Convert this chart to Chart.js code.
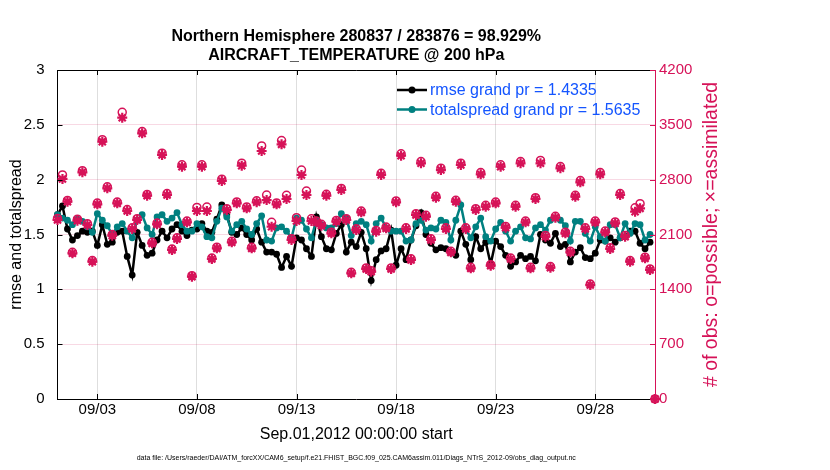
<!DOCTYPE html>
<html>
<head>
<meta charset="utf-8">
<script src="https://cdn.jsdelivr.net/npm/chart.js@4.4.1/dist/chart.umd.min.js"></script>
<style>
  html, body { margin: 0; padding: 0; background: #fff; }
  #wrap { width: 830px; height: 470px; }
</style>
</head>
<body>
<div id="wrap"><canvas id="chart" width="830" height="470"></canvas></div>
<script>
// bins are 6-hourly, day 0 = Sep.01,2012 00:00
const binDays = 0.25;
const xTickDays = [2, 7, 12, 17, 22, 27];
const xTickLabels = ['09/03', '09/08', '09/13', '09/18', '09/23', '09/28'];
const leftTicks = [0, 0.5, 1, 1.5, 2, 2.5, 3];
const rightTicks = [0, 700, 1400, 2100, 2800, 3500, 4200];

const rmse = [
  1.68, 1.76, 1.55, 1.45, 1.49, 1.53, 1.52, 1.53, 1.40, 1.59, 1.41, 1.43, 1.52, 1.53, 1.30, 1.13,
  1.52, 1.40, 1.31, 1.33, 1.45, 1.53, 1.47, 1.55, 1.59, 1.53, 1.49, 1.54, 1.55, 1.60, 1.53, 1.52,
  1.64, 1.77, 1.68, 1.52, 1.50, 1.56, 1.50, 1.45, 1.55, 1.43, 1.34, 1.34, 1.32, 1.20, 1.30, 1.21,
  1.47, 1.45, 1.37, 1.30, 1.66, 1.48, 1.37, 1.36, 1.51, 1.59, 1.34, 1.43, 1.39, 1.52, 1.37, 1.08,
  1.27, 1.35, 1.37, 1.54, 1.22, 1.37, 1.27, 1.45, 1.58, 1.70, 1.50, 1.42, 1.36, 1.38, 1.37, 1.34,
  1.31, 1.53, 1.41, 1.27, 1.48, 1.37, 1.43, 1.23, 1.44, 1.39, 1.31, 1.21, 1.25, 1.31, 1.28, 1.30,
  1.26, 1.50, 1.45, 1.42, 1.51, 1.39, 1.41, 1.25, 1.34, 1.38, 1.29, 1.28, 1.33, 1.45, 1.44, 1.47,
  1.43, 1.47, 1.48, 1.53, 1.53, 1.42, 1.37, 1.43
];
const totalspread = [
  1.68, 1.65, 1.63, 1.59, 1.64, 1.62, 1.57, 1.52, 1.69, 1.63, 1.58, 1.50, 1.57, 1.60, 1.53, 1.47,
  1.63, 1.68, 1.56, 1.50, 1.66, 1.68, 1.62, 1.65, 1.70, 1.59, 1.53, 1.53, 1.60, 1.57, 1.48, 1.47,
  1.62, 1.74, 1.66, 1.53, 1.59, 1.62, 1.55, 1.50, 1.60, 1.67, 1.45, 1.44, 1.56, 1.57, 1.53, 1.47,
  1.65, 1.63, 1.55, 1.47, 1.63, 1.59, 1.56, 1.56, 1.60, 1.69, 1.65, 1.49, 1.60, 1.62, 1.59, 1.44,
  1.60, 1.65, 1.56, 1.53, 1.53, 1.53, 1.44, 1.45, 1.60, 1.63, 1.54, 1.56, 1.55, 1.63, 1.61, 1.45,
  1.63, 1.77, 1.55, 1.47, 1.57, 1.65, 1.48, 1.44, 1.55, 1.61, 1.53, 1.44, 1.53, 1.57, 1.47, 1.46,
  1.56, 1.59, 1.54, 1.63, 1.65, 1.63, 1.58, 1.44, 1.62, 1.62, 1.51, 1.44, 1.57, 1.48, 1.44, 1.59,
  1.59, 1.47, 1.60, 1.51, 1.60, 1.59, 1.45, 1.50
];
const obsPossible = [
  2305, 2860, 2535, 1872, 2295, 2915, 2238, 1768, 2502, 3310, 2708, 2100, 2515, 3660, 2418, 2186,
  2302, 3415, 2612, 2001, 2247, 3138, 2622, 1915, 2058, 2990, 2272, 1575, 2445, 2990, 2450, 1800,
  1938, 2806, 2430, 2014, 2516, 3010, 2452, 1937, 2530, 3230, 2604, 2255, 2503, 3300, 2600, 2046,
  2315, 2923, 2655, 2300, 2272, 2230, 2614, 2130, 2280, 2688, 2302, 1617, 2173, 2400, 1673, 1638,
  2152, 2882, 2195, 1673, 2528, 3130, 2186, 1789, 2366, 3032, 2345, 2045, 2588, 2946, 2186, 1886,
  2536, 3010, 2186, 1681, 2430, 2890, 2472, 1715, 2515, 2990, 2203, 1800, 2472, 3032, 2272, 1681,
  2570, 3045, 2088, 1690, 2332, 2968, 2130, 1886, 2600, 2788, 2186, 1468, 2272, 2890, 2144, 1930,
  2260, 2622, 2088, 1767, 2440, 2494, 1810, 1660, 0
];
const obsAssimilated = [
  2285, 2809, 2519, 1860, 2277, 2894, 2221, 1753, 2485, 3285, 2690, 2085, 2498, 3591, 2400, 2170,
  2285, 3391, 2596, 1987, 2230, 3115, 2604, 1902, 2043, 2966, 2255, 1562, 2400, 2966, 2400, 1787,
  1923, 2783, 2413, 2000, 2498, 2979, 2434, 1923, 2511, 3166, 2540, 2200, 2485, 3251, 2553, 2030,
  2273, 2860, 2604, 2272, 2255, 2213, 2596, 2115, 2264, 2668, 2285, 1604, 2157, 2383, 1660, 1625,
  2136, 2860, 2179, 1660, 2511, 3106, 2170, 1775, 2349, 3009, 2328, 2030, 2570, 2923, 2170, 1872,
  2519, 2987, 2170, 1668, 2413, 2868, 2455, 1702, 2498, 2966, 2187, 1787, 2455, 3009, 2255, 1668,
  2553, 3009, 2072, 1676, 2315, 2945, 2115, 1872, 2583, 2766, 2170, 1455, 2255, 2868, 2128, 1915,
  2243, 2604, 2072, 1753, 2391, 2434, 1796, 1647, 0
];

const titleLines = ['Northern Hemisphere 280837 / 283876 = 98.929%', 'AIRCRAFT_TEMPERATURE @ 200 hPa'];
const leftLabel = 'rmse and totalspread';
const rightLabel = '# of obs: o=possible; \u00d7=assimilated';
const xLabel = 'Sep.01,2012 00:00:00 start';
const footer = 'data file: /Users/raeder/DAI/ATM_forcXX/CAM6_setup/f.e21.FHIST_BGC.f09_025.CAM6assim.011/Diags_NTrS_2012-09/obs_diag_output.nc';
const legendItems = ['rmse grand pr = 1.4335', 'totalspread grand pr = 1.5635'];

const pink = 'rgb(214,18,88)';
const teal = 'rgb(0,128,128)';
const blue = 'rgb(20,85,255)';
const fontFam = '"Liberation Sans", Arial, Helvetica, sans-serif';

Chart.defaults.font.family = fontFam;
Chart.defaults.color = '#000';

const toXY = arr => arr.map((v, i) => ({ x: i * binDays, y: v }));

// axes frame bits matlab draws: top edge, inward ticks, legend, right label
const matlabFrame = {
  id: 'matlabFrame',
  afterDraw(chart) {
    const { ctx, chartArea: a, scales } = chart;
    ctx.save();
    ctx.lineWidth = 1;
    ctx.strokeStyle = '#000';
    ctx.beginPath();
    ctx.moveTo(a.left, a.top + 0.5);
    ctx.lineTo(a.right, a.top + 0.5);
    ctx.stroke();

    ctx.beginPath();
    xTickDays.forEach(d => {
      const px = Math.round(scales.x.getPixelForValue(d)) + 0.5;
      ctx.moveTo(px, a.bottom); ctx.lineTo(px, a.bottom - 5);
      ctx.moveTo(px, a.top); ctx.lineTo(px, a.top + 5);
    });
    leftTicks.forEach(v => {
      const py = Math.round(scales.y.getPixelForValue(v)) + 0.5;
      ctx.moveTo(a.left, py); ctx.lineTo(a.left + 5, py);
    });
    ctx.stroke();

    ctx.strokeStyle = pink;
    ctx.beginPath();
    rightTicks.forEach(v => {
      const py = Math.round(scales.y2.getPixelForValue(v)) + 0.5;
      ctx.moveTo(a.right - 5, py); ctx.lineTo(a.right, py);
    });
    ctx.stroke();

    // legend
    const rows = [[90, '#000'], [109.5, teal]];
    ctx.font = '16px ' + fontFam;
    ctx.textBaseline = 'middle';
    ctx.textAlign = 'left';
    rows.forEach(([y, col], i) => {
      ctx.strokeStyle = col;
      ctx.lineWidth = 2.5;
      ctx.beginPath(); ctx.moveTo(397, y); ctx.lineTo(427, y); ctx.stroke();
      ctx.fillStyle = col;
      ctx.beginPath(); ctx.arc(412, y, 3.5, 0, Math.PI * 2); ctx.fill();
      ctx.fillStyle = blue;
      ctx.fillText(legendItems[i], 430, y + 1);
    });

    // right axis label, reads bottom to top
    ctx.translate(712, (a.top + a.bottom) / 2);
    ctx.rotate(-Math.PI / 2);
    ctx.font = '19.5px ' + fontFam;
    ctx.fillStyle = pink;
    ctx.textAlign = 'center';
    ctx.fillText(rightLabel, 0, 0);
    ctx.restore();
  }
};

const ctx = document.getElementById('chart').getContext('2d');
new Chart(ctx, {
  type: 'line',
  data: {
    datasets: [
      {
        label: 'rmse', data: toXY(rmse), yAxisID: 'y', order: 4,
        borderColor: '#000', backgroundColor: '#000', borderWidth: 2.5,
        pointRadius: 3.4, pointBorderWidth: 0, tension: 0, clip: false
      },
      {
        label: 'totalspread', data: toXY(totalspread), yAxisID: 'y', order: 3,
        borderColor: teal, backgroundColor: teal, borderWidth: 2.5,
        pointRadius: 3.4, pointBorderWidth: 0, tension: 0, clip: false
      },
      {
        label: 'possible', data: toXY(obsPossible), yAxisID: 'y2', order: 2,
        showLine: false, pointStyle: 'circle', pointRadius: 4,
        pointBorderColor: pink, pointBackgroundColor: 'rgba(0,0,0,0)', pointBorderWidth: 1.5, clip: false
      },
      {
        label: 'assimilated', data: toXY(obsAssimilated), yAxisID: 'y2', order: 1,
        showLine: false, pointStyle: 'star', pointRadius: 5,
        pointBorderColor: pink, pointBackgroundColor: pink, pointBorderWidth: 2.2, clip: false
      }
    ]
  },
  options: {
    responsive: false,
    animation: false,
    events: [],
    layout: { padding: 0 },
    plugins: {
      legend: { display: false },
      tooltip: { enabled: false },
      title: {
        display: true, text: titleLines, fullSize: false,
        font: { size: 16, weight: 'bold', lineHeight: 1.2 },
        padding: { top: 27, bottom: 4.6 }, color: '#000'
      },
      subtitle: {
        display: true, text: footer, position: 'bottom', fullSize: false,
        font: { size: 7, lineHeight: 1.2 }, padding: { top: 0, bottom: 8 }, color: '#000'
      }
    },
    scales: {
      x: {
        type: 'linear', min: 0, max: 30,
        afterBuildTicks: s => { s.ticks = xTickDays.map(v => ({ value: v })); },
        afterFit: s => { s.height = 54.6; },
        ticks: {
          autoSkip: false, maxRotation: 0, padding: 2,
          font: { size: 15 }, color: '#000',
          callback: v => xTickLabels[xTickDays.indexOf(v)]
        },
        grid: { color: 'rgb(222,222,222)', drawTicks: false },
        border: { color: '#000', width: 1 },
        title: { display: true, text: xLabel, font: { size: 16, lineHeight: 1.2 }, padding: { top: 0, bottom: 9 }, color: '#000' }
      },
      y: {
        position: 'left', min: 0, max: 3,
        afterBuildTicks: s => { s.ticks = leftTicks.map(v => ({ value: v })); },
        afterFit: s => { s.width = 57.5; },
        ticks: { padding: 5, font: { size: 15 }, color: '#000', callback: v => String(v) },
        grid: { display: false },
        border: { color: '#000', width: 1 },
        title: { display: true, text: leftLabel, font: { size: 16, lineHeight: 1.2 }, padding: { top: 7.4, bottom: 0 }, color: '#000' }
      },
      y2: {
        position: 'right', min: 0, max: 4200,
        afterBuildTicks: s => { s.ticks = rightTicks.map(v => ({ value: v })); },
        afterFit: s => { s.width = 175; },
        ticks: { padding: 4, font: { size: 15 }, color: pink, callback: v => String(v) },
        grid: { color: 'rgba(214,18,88,0.16)', drawTicks: false },
        border: { color: pink, width: 1 }
      }
    }
  },
  plugins: [matlabFrame]
});
</script>
</body>
</html>
